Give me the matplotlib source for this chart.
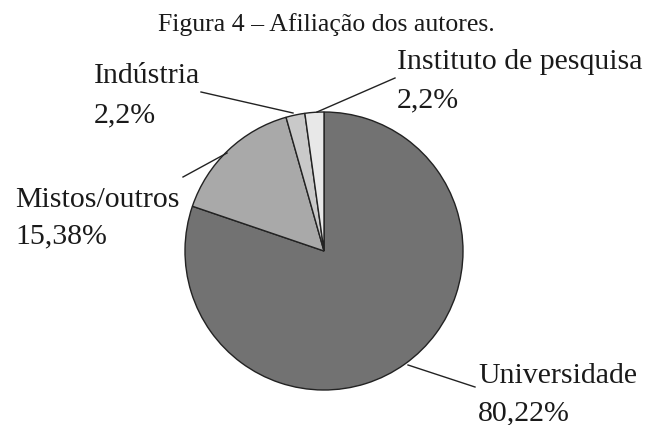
import matplotlib
matplotlib.use("Agg")
import matplotlib.pyplot as plt

categories = ["Universidade", "Mistos/outros", "Indústria", "Instituto de pesquisa"]
values = [80.22, 15.38, 2.2, 2.2]
value_labels = ["80,22%", "15,38%", "2,2%", "2,2%"]
colors = ["#727272", "#a9a9a9", "#c9c9c9", "#e8e8e8"]
title = "Figura 4 – Afiliação dos autores."

W, H = 652, 425
fig = plt.figure(figsize=(W / 100, H / 100), dpi=100)
ax = fig.add_axes([0, 0, 1, 1])

def py(y):
    return H - y

cx, cy, r = 324, py(251), 139
ax.pie(values, colors=colors, startangle=90, counterclock=False,
       center=(cx, cy), radius=r, frame=True,
       wedgeprops=dict(edgecolor="#222222", linewidth=1.0))
ax.set_xlim(0, W)
ax.set_ylim(0, H)
ax.set_aspect("equal")
ax.axis("off")

font = dict(family="Liberation Serif", color="#1a1a1a")
fs = 21.5

ax.text(W / 2 + 0.5, py(31), title, ha="center", va="baseline", fontsize=18.5, **font)

# label positions: left x, baseline of name, baseline of value (pixel coords)
lab = {
    "Universidade": (478, 383, 420),
    "Mistos/outros": (15, 207, 243),
    "Indústria": (94, 83, 122),
    "Instituto de pesquisa": (397, 69, 107),
}
for cat, vl in zip(categories, value_labels):
    x, y1, y2 = lab[cat]
    ax.text(x, py(y1), cat, ha="left", va="baseline", fontsize=fs, **font)
    ax.text(x, py(y2), vl, ha="left", va="baseline", fontsize=fs, **font)

lines = [
    ((408, 365), (475, 387)),
    ((227, 153), (183, 177)),
    ((293, 113), (201, 92)),
    ((317, 112), (395, 78)),
]
for (x0, y0), (x1, y1) in lines:
    ax.plot([x0, x1], [py(y0), py(y1)], color="#222222", linewidth=1.0)

fig.savefig("out.png", dpi=100)
